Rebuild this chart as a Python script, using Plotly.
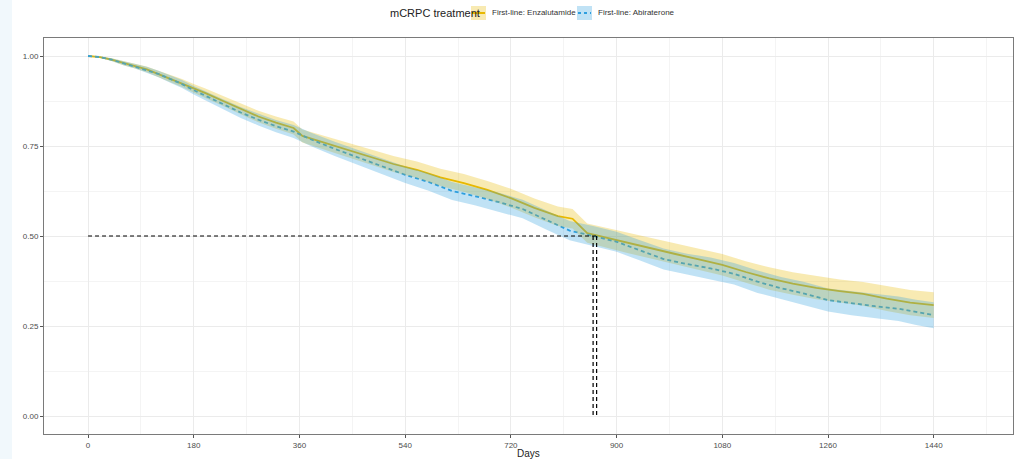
import plotly.graph_objects as go

# ---- data ----
enz_days = [0, 20, 40, 60, 80, 100, 120, 140, 160, 180, 200, 230, 260, 290, 320, 350, 365, 400, 440, 480, 520,
            560, 600, 640, 680, 720, 760, 800, 825, 850, 880, 920, 960, 1000, 1040, 1080, 1120, 1160, 1200,
            1240, 1280, 1320, 1360, 1400, 1440]
enz_surv = [1.000, 0.997, 0.990, 0.980, 0.972, 0.963, 0.950, 0.938, 0.925, 0.910, 0.897, 0.875, 0.853, 0.832,
            0.815, 0.800, 0.778, 0.760, 0.740, 0.720, 0.700, 0.684, 0.663, 0.647, 0.628, 0.605, 0.578, 0.555,
            0.548, 0.508, 0.496, 0.480, 0.465, 0.450, 0.435, 0.420, 0.400, 0.382, 0.368, 0.356, 0.347,
            0.339, 0.326, 0.315, 0.308]
enz_upper = [1.000, 0.999, 0.994, 0.986, 0.979, 0.971, 0.959, 0.948, 0.936, 0.922, 0.910, 0.889, 0.868, 0.848,
             0.832, 0.818, 0.796, 0.779, 0.760, 0.741, 0.722, 0.707, 0.687, 0.672, 0.653, 0.631, 0.604, 0.582,
             0.575, 0.535, 0.524, 0.508, 0.493, 0.479, 0.464, 0.450, 0.430, 0.413, 0.399, 0.388, 0.379,
             0.372, 0.360, 0.350, 0.344]
enz_lower = [1.000, 0.995, 0.986, 0.974, 0.965, 0.955, 0.941, 0.928, 0.914, 0.898, 0.884, 0.861, 0.838, 0.816,
             0.798, 0.782, 0.760, 0.741, 0.720, 0.699, 0.678, 0.661, 0.639, 0.622, 0.603, 0.579, 0.552, 0.528,
             0.521, 0.481, 0.468, 0.452, 0.437, 0.421, 0.406, 0.390, 0.370, 0.351, 0.337, 0.324, 0.315,
             0.306, 0.292, 0.280, 0.272]

abi_days = [0, 20, 40, 60, 80, 100, 120, 140, 160, 180, 200, 230, 260, 290, 320, 350, 380, 420, 460, 500, 540,
            580, 620, 660, 700, 740, 780, 820, 860, 900, 940, 980, 1020, 1060, 1100, 1140, 1180, 1220, 1260, 1300,
            1340, 1380, 1410, 1440]
abi_surv = [1.000, 0.997, 0.990, 0.980, 0.972, 0.962, 0.950, 0.936, 0.922, 0.905, 0.890, 0.866, 0.843, 0.823,
            0.805, 0.790, 0.768, 0.742, 0.718, 0.693, 0.670, 0.650, 0.625, 0.610, 0.594, 0.575, 0.545, 0.515,
            0.500, 0.484, 0.460, 0.436, 0.422, 0.410, 0.395, 0.373, 0.355, 0.340, 0.322, 0.313, 0.305, 0.298,
            0.288, 0.280]
abi_upper = [1.000, 0.999, 0.994, 0.986, 0.979, 0.970, 0.959, 0.946, 0.933, 0.917, 0.903, 0.880, 0.858, 0.839,
             0.822, 0.808, 0.787, 0.762, 0.739, 0.715, 0.693, 0.674, 0.650, 0.635, 0.620, 0.601, 0.572, 0.542,
             0.528, 0.512, 0.488, 0.465, 0.451, 0.440, 0.425, 0.404, 0.386, 0.372, 0.354, 0.346, 0.338, 0.332,
             0.323, 0.316]
abi_lower = [1.000, 0.995, 0.986, 0.974, 0.965, 0.954, 0.941, 0.926, 0.911, 0.893, 0.877, 0.852, 0.828, 0.807,
             0.788, 0.772, 0.749, 0.722, 0.697, 0.671, 0.647, 0.626, 0.600, 0.585, 0.568, 0.549, 0.518, 0.488,
             0.472, 0.456, 0.432, 0.407, 0.393, 0.380, 0.365, 0.342, 0.324, 0.308, 0.290, 0.280, 0.272, 0.264,
             0.253, 0.244]

median_days = [860, 866]
median_surv = 0.5

x_ticks = [0, 180, 360, 540, 720, 900, 1080, 1260, 1440]
x_minor = [-90, 90, 270, 450, 630, 810, 990, 1170, 1350, 1530]
y_ticks = [0.00, 0.25, 0.50, 0.75, 1.00]
y_minor = [0.125, 0.375, 0.625, 0.875]
y_tick_labels = ["0.00", "0.25", "0.50", "0.75", "1.00"]

legend_title = "mCRPC treatment"
group_names = ["First-line: Enzalutamide", "First-line: Abiraterone"]
gold = "#E7B800"
blue = "#2E9FDF"
gold_fill = "rgba(231,184,0,0.30)"
blue_fill = "rgba(46,159,223,0.30)"
FONT = "Liberation Sans, Arial, sans-serif"

# pixel geometry of the plotting panel
L, R, T, B, W, H = 44, 4, 38, 25, 1017, 459
PW, PH = W - L - R, H - T - B


def px(xp):
    return (xp - L) / PW


def py(yp):
    return (H - B - yp) / PH


fig = go.Figure()

# survival curves
fig.add_trace(go.Scatter(x=enz_days, y=enz_surv, mode="lines", line=dict(color=gold, width=1.8),
                         name=group_names[0], showlegend=False))
fig.add_trace(go.Scatter(x=abi_days, y=abi_surv, mode="lines",
                         line=dict(color=blue, width=1.8, dash="4px,3px"),
                         name=group_names[1], showlegend=False))

# confidence ribbons (drawn on top of the lines, as in the reference)
fig.add_trace(go.Scatter(x=enz_days, y=enz_lower, mode="lines", line=dict(width=0),
                         showlegend=False, hoverinfo="skip"))
fig.add_trace(go.Scatter(x=enz_days, y=enz_upper, mode="lines", line=dict(width=0),
                         fill="tonexty", fillcolor=gold_fill, showlegend=False, hoverinfo="skip"))
fig.add_trace(go.Scatter(x=abi_days, y=abi_lower, mode="lines", line=dict(width=0),
                         showlegend=False, hoverinfo="skip"))
fig.add_trace(go.Scatter(x=abi_days, y=abi_upper, mode="lines", line=dict(width=0),
                         fill="tonexty", fillcolor=blue_fill, showlegend=False, hoverinfo="skip"))

# median lines
fig.add_trace(go.Scatter(x=[0, max(median_days)], y=[median_surv, median_surv], mode="lines",
                         line=dict(color="black", width=1.2, dash="4px,3px"), showlegend=False, hoverinfo="skip"))
for md in median_days:
    fig.add_trace(go.Scatter(x=[md, md], y=[median_surv, 0], mode="lines",
                             line=dict(color="black", width=1.2, dash="4px,3px"), showlegend=False,
                             hoverinfo="skip"))

grid = "#ebebeb"
fig.update_xaxes(
    range=[-75, 1575], tickvals=x_ticks, ticktext=[str(t) for t in x_ticks],
    showgrid=True, gridcolor=grid, gridwidth=1,
    minor=dict(showgrid=True, gridcolor="#f4f4f4", gridwidth=1, tickvals=x_minor),
    showline=True, linecolor="#7a7a7a", linewidth=1, mirror=True,
    ticks="outside", ticklen=3, tickcolor="#555555", tickwidth=1,
    tickfont=dict(family=FONT, size=8, color="#4d4d4d"),
    zeroline=False, automargin=False,
)
fig.update_yaxes(
    range=[-0.05, 1.05], tickvals=y_ticks, ticktext=y_tick_labels,
    showgrid=True, gridcolor=grid, gridwidth=1,
    minor=dict(showgrid=True, gridcolor="#f4f4f4", gridwidth=1, tickvals=y_minor),
    showline=True, linecolor="#7a7a7a", linewidth=1, mirror=True,
    ticks="outside", ticklen=3, tickcolor="#555555", tickwidth=1,
    tickfont=dict(family=FONT, size=8, color="#4d4d4d"),
    zeroline=False, automargin=False,
)

# manual legend (ggplot style: keys with ribbon-coloured background)
leg_y = 13
annotations = [
    dict(text="Days", xref="paper", yref="paper", x=0.5, y=py(453), xanchor="center",
         yanchor="middle", showarrow=False, font=dict(family=FONT, size=10, color="#222222")),
    dict(text=legend_title, xref="paper", yref="paper", x=px(388), y=py(leg_y), xanchor="left",
         yanchor="middle", showarrow=False, font=dict(family=FONT, size=11, color="#222222")),
    dict(text=group_names[0], xref="paper", yref="paper", x=px(490), y=py(leg_y), xanchor="left",
         yanchor="middle", showarrow=False, font=dict(family=FONT, size=8, color="#333333")),
    dict(text=group_names[1], xref="paper", yref="paper", x=px(596), y=py(leg_y), xanchor="left",
         yanchor="middle", showarrow=False, font=dict(family=FONT, size=8, color="#333333")),
]
shapes = [
    dict(type="rect", xref="paper", yref="paper", x0=px(0), x1=px(12), y0=py(H), y1=py(0),
         fillcolor="#f1f8fc", line=dict(width=0), layer="below"),
    dict(type="rect", xref="paper", yref="paper", x0=px(471), x1=px(486), y0=py(leg_y + 7), y1=py(leg_y - 7),
         fillcolor=gold_fill, line=dict(width=0)),
    dict(type="line", xref="paper", yref="paper", x0=px(472), x1=px(485), y0=py(leg_y), y1=py(leg_y),
         line=dict(color=gold, width=2)),
    dict(type="rect", xref="paper", yref="paper", x0=px(577), x1=px(592), y0=py(leg_y + 7), y1=py(leg_y - 7),
         fillcolor=blue_fill, line=dict(width=0)),
    dict(type="line", xref="paper", yref="paper", x0=px(578), x1=px(591), y0=py(leg_y), y1=py(leg_y),
         line=dict(color=blue, width=2, dash="3px,3px")),
]

fig.update_layout(
    width=W, height=H,
    margin=dict(l=L, r=R, t=T, b=B),
    paper_bgcolor="white", plot_bgcolor="white",
    showlegend=False,
    annotations=annotations,
    shapes=shapes,
)

fig.write_html("out.html")
